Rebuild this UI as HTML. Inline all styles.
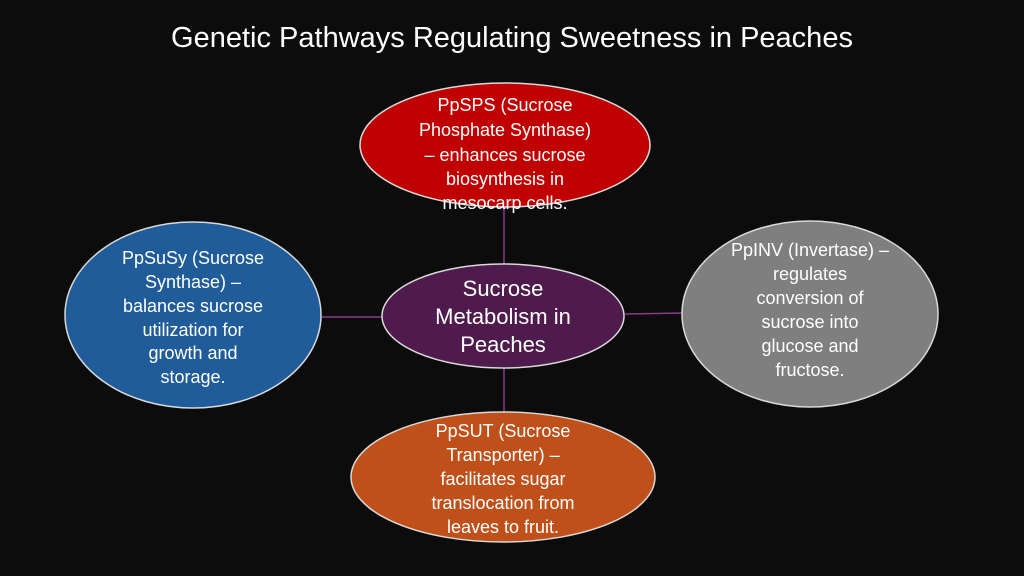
<!DOCTYPE html>
<html><head><style>
body{margin:0;background:#0c0c0c;}
svg{display:block;font-family:"Liberation Sans",sans-serif;}
</style></head><body>
<svg width="1024" height="576" viewBox="0 0 1024 576">
<rect width="1024" height="576" fill="#0c0c0c"/>
<text x="512" y="47" fill="#fff" font-size="29" text-anchor="middle">Genetic Pathways Regulating Sweetness in Peaches</text>
<g stroke="#8a3a8a" stroke-width="1.5">
<line x1="504" y1="207" x2="504" y2="265"/>
<line x1="504" y1="368" x2="504" y2="412"/>
<line x1="322" y1="317" x2="382" y2="317"/>
<line x1="625" y1="314" x2="682" y2="313"/>
</g>
<g stroke="#d9d9d9" stroke-width="1.5">
<ellipse cx="505" cy="145" rx="145" ry="62" fill="#c00000"/>
<ellipse cx="193" cy="315" rx="128" ry="93" fill="#1f5c99"/>
<ellipse cx="810" cy="314" rx="128" ry="93" fill="#7f7f7f"/>
<ellipse cx="503" cy="477" rx="152" ry="65" fill="#c0501a"/>
<ellipse cx="503" cy="316" rx="121" ry="52" fill="#4f1a4c"/>
</g>
<g fill="#fff" font-size="18" text-anchor="middle">
<text x="505" y="111">PpSPS (Sucrose</text>
<text x="505" y="136">Phosphate Synthase)</text>
<text x="505" y="161">– enhances sucrose</text>
<text x="505" y="185">biosynthesis in</text>
<text x="505" y="209">mesocarp cells.</text>
<text x="193" y="264">PpSuSy (Sucrose</text>
<text x="193" y="288">Synthase) –</text>
<text x="193" y="312">balances sucrose</text>
<text x="193" y="336">utilization for</text>
<text x="193" y="359">growth and</text>
<text x="193" y="383">storage.</text>
<text x="810" y="256">PpINV (Invertase) –</text>
<text x="810" y="280">regulates</text>
<text x="810" y="304">conversion of</text>
<text x="810" y="328">sucrose into</text>
<text x="810" y="352">glucose and</text>
<text x="810" y="376">fructose.</text>
<text x="503" y="437">PpSUT (Sucrose</text>
<text x="503" y="461">Transporter) –</text>
<text x="503" y="485">facilitates sugar</text>
<text x="503" y="509">translocation from</text>
<text x="503" y="533">leaves to fruit.</text>
</g>
<g fill="#fff" font-size="22" text-anchor="middle">
<text x="503" y="296">Sucrose</text>
<text x="503" y="324">Metabolism in</text>
<text x="503" y="352">Peaches</text>
</g>
</svg>
</body></html>
